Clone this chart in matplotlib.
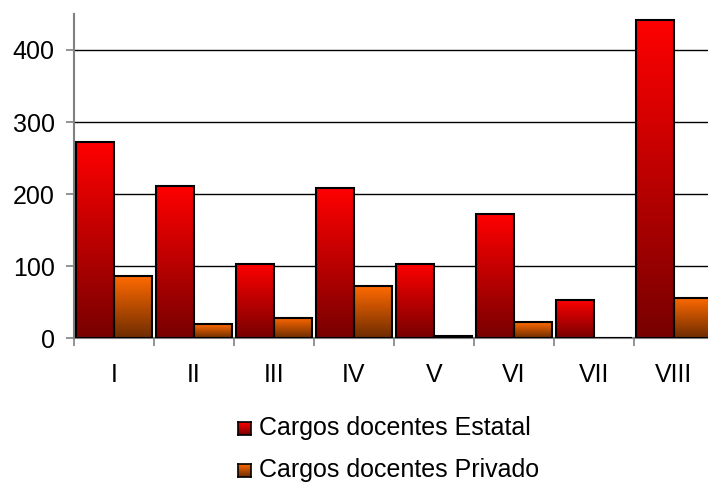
import numpy as np
import matplotlib.pyplot as plt
from matplotlib.colors import LinearSegmentedColormap

plt.rcParams['font.family'] = ['Liberation Sans', 'DejaVu Sans']

categorias = ['I', 'II', 'III', 'IV', 'V', 'VI', 'VII', 'VIII']
estatal = [272, 211, 103, 208, 103, 172, 53, 442]
privado = [86, 19, 28, 72, 3, 22, 0, 56]
series = ['Cargos docentes Estatal', 'Cargos docentes Privado']

cmap_est = LinearSegmentedColormap.from_list('est', ['#780000', '#ff0000'])
cmap_priv = LinearSegmentedColormap.from_list('priv', ['#6e2c00', '#ff6a00'])
grad = np.linspace(0, 1, 256).reshape(-1, 1)

W, H = 708, 482
fig = plt.figure(figsize=(W / 100, H / 100), dpi=100)
# plot area runs past the right edge, as in the original
ax = fig.add_axes([74 / W, (H - 338) / H, 640 / W, 324 / H])

x = np.arange(len(categorias))
bw = 0.475


def grad_bars(xs, vals, cmap):
    bars = ax.bar(xs, vals, width=bw, align='edge', facecolor='none',
                  edgecolor='black', linewidth=1.5, zorder=3)
    for b in bars:
        h = b.get_height()
        if h <= 0:
            continue
        x0 = b.get_x()
        ax.imshow(grad, cmap=cmap, origin='lower', aspect='auto',
                  extent=[x0, x0 + b.get_width(), 0, h], zorder=2)
    return bars


grad_bars(x - bw, estatal, cmap_est)
grad_bars(x, privado, cmap_priv)

ax.set_xlim(-0.5, 7.5)
ax.set_ylim(0, 450)
ax.set_yticks([0, 100, 200, 300, 400])
ax.yaxis.grid(True, color='black', linewidth=1)
ax.set_axisbelow(True)

ax.set_xticks(np.arange(-0.5, 8, 1))
ax.set_xticklabels([])
ax.set_xticks(x, minor=True)
ax.set_xticklabels(categorias, minor=True)
ax.tick_params(axis='x', which='major', length=6, color='#808080', width=1.2)
ax.tick_params(axis='x', which='minor', length=0, pad=18, labelsize=18)
ax.tick_params(axis='y', length=6, color='#808080', width=1.2, pad=8, labelsize=18)

for s in ['top', 'right']:
    ax.spines[s].set_visible(False)
for s in ['left', 'bottom']:
    ax.spines[s].set_color('#808080')
    ax.spines[s].set_linewidth(1.5)

# legend drawn by hand so the markers keep the gradient
for i, (lab, cm) in enumerate(zip(series, [cmap_est, cmap_priv])):
    yc = 428 + i * 42
    lax = fig.add_axes([238 / W, (H - yc - 7) / H, 13 / W, 13 / H])
    lax.imshow(grad, cmap=cm, origin='lower', aspect='auto')
    lax.set_xticks([])
    lax.set_yticks([])
    for s in lax.spines.values():
        s.set_linewidth(1.2)
    fig.text(259 / W, (H - yc) / H, lab, fontsize=18, va='center', ha='left')

fig.savefig('out.png', dpi=100)
